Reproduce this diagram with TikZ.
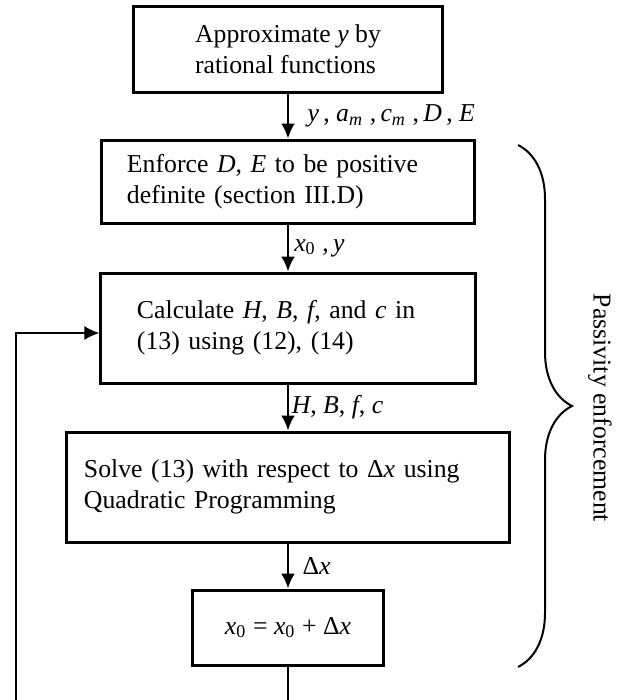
\documentclass[tikz,border=0pt]{standalone}
\usepackage{fontspec}
\setmainfont{Liberation Serif}
\usetikzlibrary{arrows.meta,decorations.pathreplacing}
\begin{document}
\begin{tikzpicture}[x=0.4pt,y=-0.4pt,>={Latex[length=6pt,width=5.6pt]},line width=1pt,font=\fontsize{10.3}{12.4}\selectfont]
				\useasboundingbox (0,0) rectangle (623,700);
				\tikzset{stagebox/.style={draw,line width=1.2pt,align=left}}
				\node[stagebox,minimum width=123.6pt,minimum height=34pt] (approx) at (288,49.5) {Approximate \textit{y} by\\rational functions};
				\node[stagebox,text width=128.8pt,inner xsep=10pt,minimum height=33.2pt] (enforce) at (288,181.5) {Enforce \textit{D}, \textit{E} to be positive\\definite (section III.D)};
				\node[stagebox,text width=120.8pt,inner xsep=14.4pt,minimum height=44pt] (calc) at (288,328) {Calculate \textit{H}, \textit{B}, \textit{f}, and \textit{c} in\\(13) using (12), (14)};
				\node[stagebox,text width=163.2pt,inner xsep=6.8pt,minimum height=44pt] (solve) at (288,487) {Solve (13) with respect to Δ\textit{x} using\\Quadratic Programming};
				\node[stagebox,align=center,minimum width=76.4pt,minimum height=30pt] (update) at (288,627.5) {\textit{x}\textsubscript{0} = \textit{x}\textsubscript{0} + Δ\textit{x}};
				\draw[->] (approx) -- (enforce) node[midway,right,xshift=4pt] {\textit{y}\,,\ \textit{a}\textsubscript{\textit{m}}\ ,\,\textit{c}\textsubscript{\textit{m}}\ ,\,\textit{D}\,,\ \textit{E}};
				\draw[->] (enforce) -- (calc) node[midway,right,inner sep=2pt] {\textit{x}\textsubscript{0}\ ,\,\textit{y}};
				\draw[->] (calc) -- (solve) node[midway,right,inner sep=1pt] {\textit{H}, \textit{B}, \textit{f}, \textit{c}};
				\draw[->] (solve) -- (update) node[midway,right,xshift=2pt] {Δ\textit{x}};
				\coordinate (loopbottom) at (288,712);
				\coordinate (loopleft) at (16,712);
				\draw[->,line width=0.9pt] (update.south) -- (loopbottom) -- (loopleft) |- ([yshift=-2pt]calc.west);
				\draw[decorate,decoration={brace,amplitude=21.6pt},line width=0.8pt] (518,145) -- (518,667);
				\node[rotate=-90] (passivity) at (600,408) {Passivity enforcement};
			\end{tikzpicture}
\end{document}
